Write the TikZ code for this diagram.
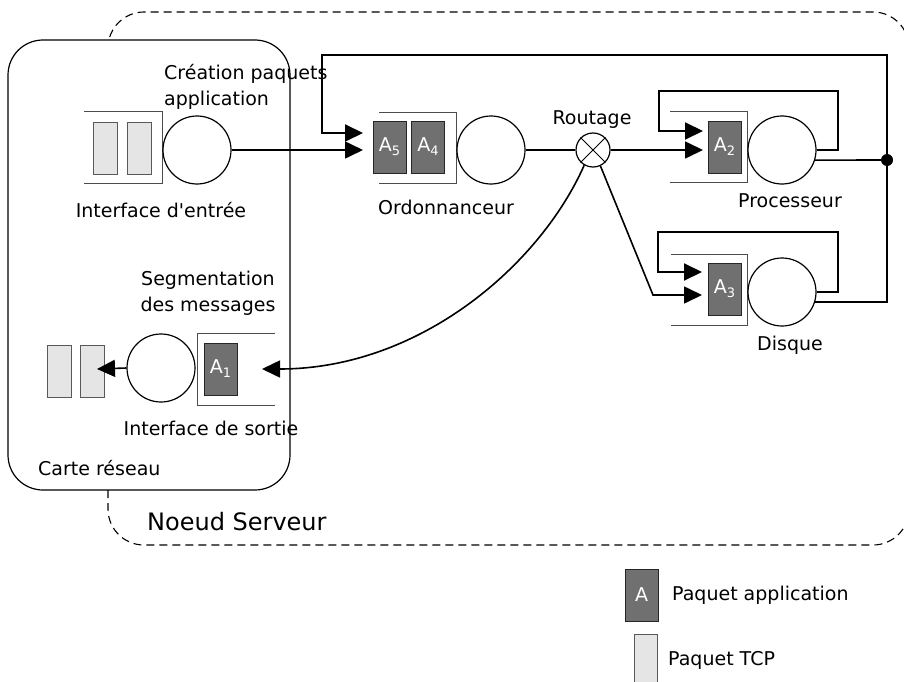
\documentclass[tikz,border=0pt]{standalone}
\usepackage{fontspec}
\setmainfont{DejaVu Sans}
\usetikzlibrary{arrows.meta}
\newcommand{\pktsub}[1]{\raisebox{-4pt}{\fontsize{13}{13}\selectfont #1}}
\begin{document}
\begin{tikzpicture}[x=1pt,y=-1pt,
  srv/.style={draw, circle, minimum size=68pt, inner sep=0pt, line width=1.2pt},
  apkt/.style={draw=black!85, line width=0.9pt, fill=black!56, minimum width=33pt, minimum height=52pt, inner sep=0pt, text=white, font=\fontsize{19}{19}\selectfont},
  tcp/.style={draw=black!65, line width=0.9pt, fill=black!10, minimum width=24pt, minimum height=52pt, inner sep=0pt},
  qline/.style={draw=black!70, line width=1pt},
  conn/.style={line width=1.6pt},
  loopc/.style={line width=2pt},
  arr/.style={-{Triangle[length=18pt,width=17pt]}},
  lbl/.style={font=\fontsize{19}{26}\selectfont, inner sep=0pt, align=center}]
\useasboundingbox (0,0) rectangle (904,682);

% enclosures
\draw[dash pattern=on 8pt off 5pt, line width=1.1pt, rounded corners=36pt] (108,12) rectangle (909,545);
\draw[fill=white, line width=1.2pt, rounded corners=35pt] (8,40) rectangle (290,490);

% interface d'entree
\node[tcp] (ieA) at (105,148) {};
\node[tcp] (ieB) at (139,148) {};
\draw[qline] (84,112) -- (162,112) -- (162,183) -- (84,183);
\node[srv] (iec) at (197,150) {};

% ordonnanceur
\node[apkt] (a5) at (389.5,147) {A\pktsub{5}};
\node[apkt] (a4) at (428,147) {A\pktsub{4}};
\draw[qline] (379,113) -- (456,113) -- (456,183) -- (379,183);
\node[srv] (ordc) at (491,150) {};

% routage
\node[draw, circle, minimum size=34pt, inner sep=0pt, line width=1.2pt] (rout) at (593,150) {};
\draw[line width=1pt] (rout.45) -- (rout.225) (rout.135) -- (rout.-45);

% processeur
\node[apkt] (a2) at (724.5,147) {A\pktsub{2}};
\draw[qline] (670,112) -- (747,112) -- (747,182) -- (670,182);
\node[srv] (procc) at (782,150) {};

% disque
\node[apkt] (a3) at (724.5,289) {A\pktsub{3}};
\draw[qline] (671,254) -- (747,254) -- (747,325) -- (671,325);
\node[srv] (disqc) at (782,292) {};

% interface de sortie
\node[apkt] (a1) at (220.5,369) {A\pktsub{1}};
\draw[qline] (275,333) -- (197,333) -- (197,405) -- (275,405);
\node[srv] (sortc) at (161,368) {};
\node[tcp] (sA) at (59,371) {};
\node[tcp] (sB) at (92,371) {};

% connector end points
\coordinate (ordin1) at (363,133);
\coordinate (ordin2) at (363,150);
\coordinate (procin1) at (703,131);
\coordinate (procin2) at (703,150);
\coordinate (disqin1) at (702,272);
\coordinate (disqin2) at (702,295);
\coordinate (sortin) at (262,369);
\coordinate (tcpin) at (97,369);
\node[circle, fill, inner sep=0pt, minimum size=12pt] (dot) at (887,160) {};

% connectors
\draw[conn, arr] (iec.east) -- (ordin2);
\draw[line width=1.2pt] (ordc.east) -- (rout.west);
\draw[conn, arr] (rout.east) -- (procin2);
\draw[conn, arr] (rout.-65) -- (653,295) -- (disqin2);
\draw[conn, arr] (rout.240) .. controls (540,265) and (420,369) .. (sortin);
\draw[conn, arr] (sortc.west) -- (tcpin);
\draw[loopc, arr] (procc.east) -- (838,150) -- (838,91) -- (659,91) -- (659,131) -- (procin1);
\draw[loopc, arr] (disqc.east) -- (838,292) -- (838,232) -- (658,232) -- (658,272) -- (disqin1);
\draw[conn] (procc.-17) -- (dot);
\draw[conn] (disqc.-17) -| (dot);
\draw[loopc, arr] (dot) -- (887,55) -- (322,55) -- (322,133) -- (ordin1);

% labels
\node[lbl, anchor=west, align=left] (crea) at (164,87) {Création paquets\\application};
\node[lbl] (iel) at (161,210) {Interface d\textquotesingle entrée};
\node[lbl] (ordl) at (446,207) {Ordonnanceur};
\node[lbl] (routl) at (592,120) {Routage};
\node[lbl] (procl) at (790,201) {Processeur};
\node[lbl] (disql) at (790,345) {Disque};
\node[lbl] (segl) at (208,293) {Segmentation\\des messages};
\node[lbl] (sortl) at (211,428) {Interface de sortie};
\node[lbl, anchor=west] (carl) at (38,468) {Carte réseau};
\node[lbl, anchor=west, font=\fontsize{24}{28}\selectfont] (noeud) at (147,522) {Noeud Serveur};

% legend
\node[apkt] (lgA) at (641.5,595) {A};
\node[lbl, anchor=west] (lgAl) at (672,595) {Paquet application};
\node[tcp, minimum width=23pt] (lgT) at (645.5,660) {};
\node[lbl, anchor=west] (lgTl) at (668,660) {Paquet TCP};
\end{tikzpicture}
\end{document}
